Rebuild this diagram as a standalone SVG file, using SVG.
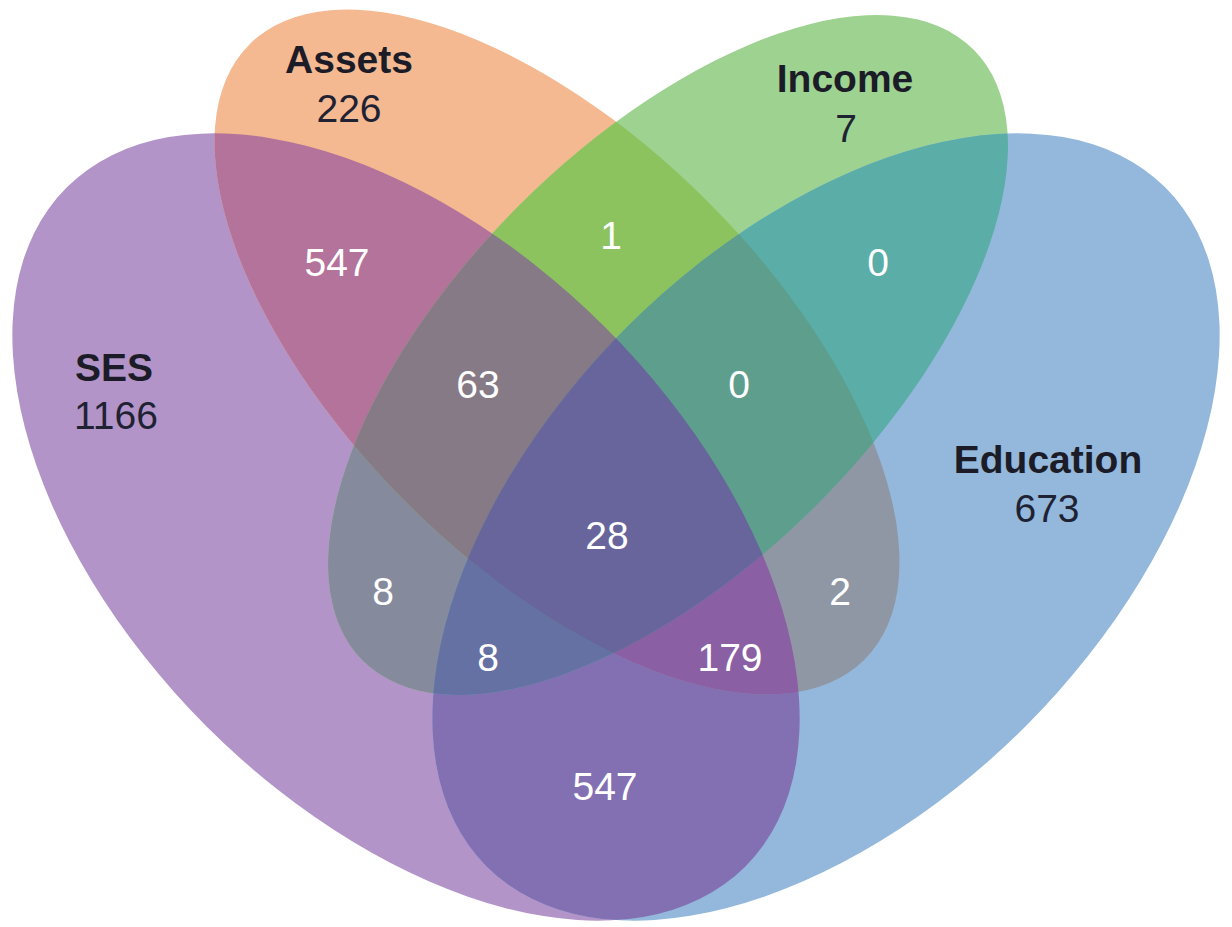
<svg xmlns="http://www.w3.org/2000/svg" width="1232" height="927" viewBox="0 0 1232 927">
  <style>
    .lbl { font-family: "Liberation Sans", Arial, sans-serif; font-size: 39px; font-weight: bold; fill: #1c1c28; text-anchor: middle; }
    .tot { font-family: "Liberation Sans", Arial, sans-serif; font-size: 39px; fill: #1f2233; text-anchor: middle; }
    .cnt { font-family: "Liberation Sans", Arial, sans-serif; font-size: 39px; fill: #ffffff; text-anchor: middle; }
  </style>
  <defs>
    <ellipse id="eS" cx="406" cy="527" rx="480" ry="282" transform="rotate(45 406 527)"/>
    <ellipse id="eE" cx="826" cy="527" rx="480" ry="282" transform="rotate(-45 826 527)"/>
    <ellipse id="eA" cx="557" cy="352" rx="435" ry="213" transform="rotate(45 557 352)"/>
    <ellipse id="eI" cx="668" cy="355" rx="432" ry="211" transform="rotate(-45 668 355)"/>
    <clipPath id="cS"><use href="#eS"/></clipPath>
    <clipPath id="cE"><use href="#eE"/></clipPath>
    <clipPath id="cA"><use href="#eA"/></clipPath>
    <clipPath id="cI"><use href="#eI"/></clipPath>
  </defs>
  <rect width="1232" height="927" fill="#ffffff"/>

  <g id="ses">
    <use href="#eS" fill="#B394C8"/>
    <text class="lbl" x="114" y="381">SES</text>
    <text class="tot" x="116" y="429">1166</text>
  </g>
  <g id="assets">
    <use href="#eA" fill="#F4B990"/>
    <text class="lbl" x="349" y="73">Assets</text>
    <text class="tot" x="349" y="122">226</text>
  </g>
  <g id="income">
    <use href="#eI" fill="#9DD290"/>
    <text class="lbl" x="845" y="92">Income</text>
    <text class="tot" x="846" y="142">7</text>
  </g>
  <g id="education">
    <use href="#eE" fill="#93B8DC"/>
    <text class="lbl" x="1048" y="473">Education</text>
    <text class="tot" x="1047" y="522">673</text>
  </g>

  <g id="overlaps">
    <g clip-path="url(#cS)"><use href="#eA" fill="#B4739B"/></g>
    <g clip-path="url(#cS)"><use href="#eI" fill="#858B9C"/></g>
    <g clip-path="url(#cS)"><use href="#eE" fill="#8370B3"/></g>
    <g clip-path="url(#cA)"><use href="#eI" fill="#8DC35F"/></g>
    <g clip-path="url(#cA)"><use href="#eE" fill="#9097A4"/></g>
    <g clip-path="url(#cI)"><use href="#eE" fill="#5BADA8"/></g>
    <g clip-path="url(#cS)"><g clip-path="url(#cA)"><use href="#eI" fill="#857A86"/></g></g>
    <g clip-path="url(#cS)"><g clip-path="url(#cA)"><use href="#eE" fill="#8B5FA3"/></g></g>
    <g clip-path="url(#cS)"><g clip-path="url(#cI)"><use href="#eE" fill="#6570A3"/></g></g>
    <g clip-path="url(#cA)"><g clip-path="url(#cI)"><use href="#eE" fill="#5D9E8D"/></g></g>
    <g clip-path="url(#cS)"><g clip-path="url(#cA)"><g clip-path="url(#cI)"><use href="#eE" fill="#67659B"/></g></g></g>
  </g>

  <g id="counts">
    <text class="cnt" x="337" y="276">547</text>
    <text class="cnt" x="611" y="249">1</text>
    <text class="cnt" x="878" y="276">0</text>
    <text class="cnt" x="478" y="398">63</text>
    <text class="cnt" x="739" y="398">0</text>
    <text class="cnt" x="607" y="549">28</text>
    <text class="cnt" x="383" y="605">8</text>
    <text class="cnt" x="840" y="605">2</text>
    <text class="cnt" x="488" y="671">8</text>
    <text class="cnt" x="730" y="671">179</text>
    <text class="cnt" x="605" y="800">547</text>
  </g>
</svg>
